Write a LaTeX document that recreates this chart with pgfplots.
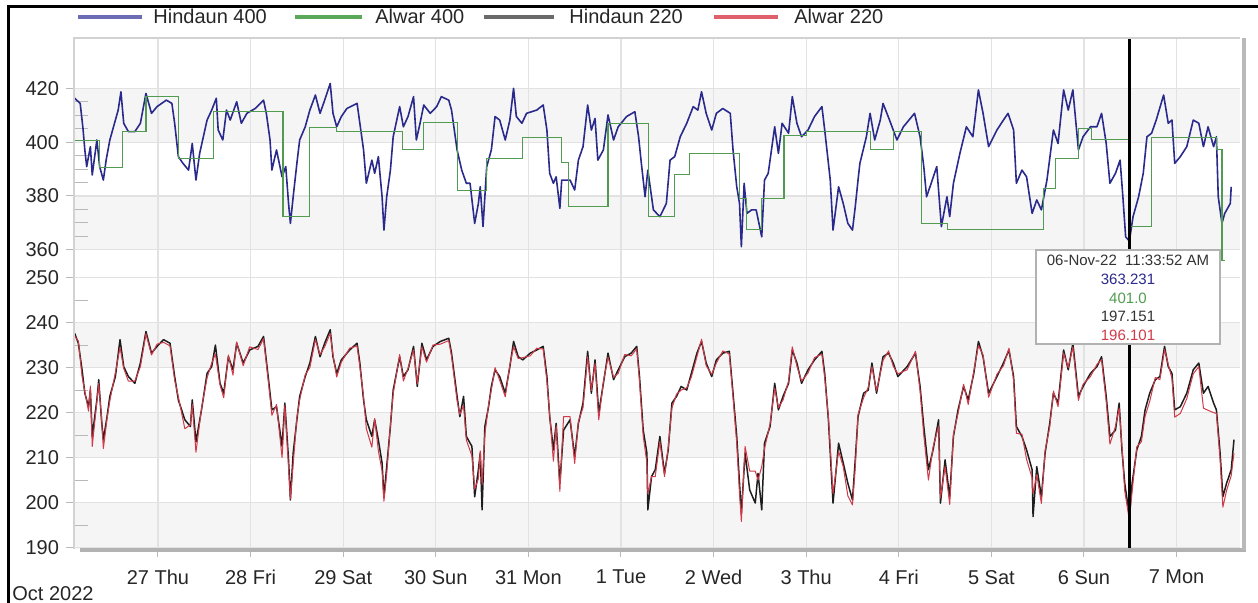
\documentclass[border=0pt]{standalone}
\usepackage{pgfplots}
\pgfplotsset{compat=1.18}
\usepackage{pgfplotstable}
\usepackage{fontspec}
\setmainfont{Liberation Sans}
\definecolor{cblue}{HTML}{2A2A8C}
\definecolor{cgreen}{HTML}{519C51}
\definecolor{cblack}{HTML}{1E1E1E}
\definecolor{cred}{HTML}{D03A48}
\definecolor{lblue}{HTML}{6C6CB4}
\definecolor{lgreen}{HTML}{5AA85A}
\definecolor{lgray}{HTML}{6A6A6A}
\definecolor{lred}{HTML}{E0606A}
\definecolor{band}{HTML}{F5F5F5}
\definecolor{gridc}{HTML}{E2E2E2}

\pgfplotstableread{
d v
0.10 416.3
0.16 414.4
0.19 405.1
0.21 397.1
0.23 390.9
0.27 398.3
0.29 387.8
0.34 400.8
0.37 390.9
0.41 385.9
0.44 393.3
0.48 400.8
0.54 408.2
0.57 411.9
0.60 418.7
0.63 407.0
0.68 403.9
0.75 403.9
0.81 407.0
0.87 418.1
0.93 410.7
0.99 413.2
1.09 415.6
1.15 414.4
1.18 407.0
1.22 394.6
1.27 392.1
1.33 389.6
1.37 399.5
1.41 385.9
1.45 395.8
1.53 408.2
1.58 411.9
1.63 416.3
1.65 404.5
1.70 400.8
1.74 411.9
1.78 408.2
1.85 415.0
1.90 407.0
1.96 410.7
2.05 412.5
2.14 415.6
2.17 410.7
2.21 400.8
2.23 389.6
2.28 397.1
2.34 387.1
2.38 390.9
2.41 377.2
2.43 369.8
2.46 379.7
2.50 392.1
2.53 400.8
2.59 405.7
2.64 411.9
2.70 417.5
2.75 410.7
2.80 415.6
2.86 421.8
2.89 410.7
2.93 405.7
2.98 409.5
3.04 412.5
3.15 414.4
3.18 407.0
3.22 397.1
3.25 384.7
3.31 393.3
3.34 388.4
3.38 394.6
3.42 379.7
3.44 367.3
3.47 379.7
3.51 389.6
3.54 402.0
3.61 413.2
3.65 405.7
3.70 409.5
3.76 416.9
3.79 400.8
3.83 407.0
3.87 413.8
3.94 410.7
4.01 413.2
4.06 416.9
4.14 415.6
4.17 411.9
4.23 397.1
4.28 389.6
4.33 384.7
4.37 384.7
4.42 369.8
4.46 377.2
4.48 383.4
4.51 368.6
4.55 390.9
4.60 397.1
4.64 409.5
4.69 408.2
4.75 400.8
4.80 408.2
4.84 420.0
4.87 409.5
4.93 407.0
4.98 410.7
5.09 411.9
5.16 413.8
5.20 404.5
5.23 388.4
5.27 384.7
5.30 387.1
5.34 375.4
5.36 385.9
5.45 385.9
5.50 382.2
5.54 393.3
5.59 398.3
5.64 413.8
5.68 404.5
5.72 408.8
5.75 393.3
5.81 397.1
5.86 410.1
5.92 400.8
5.97 405.7
6.06 409.5
6.15 411.3
6.19 402.0
6.22 392.1
6.26 379.7
6.29 389.6
6.35 374.8
6.42 372.3
6.49 377.2
6.53 393.3
6.58 394.6
6.64 402.0
6.71 407.0
6.78 413.2
6.83 411.9
6.87 418.7
6.92 410.7
6.98 404.5
7.03 410.7
7.10 412.5
7.18 410.7
7.21 397.1
7.25 383.4
7.28 377.2
7.30 361.1
7.33 384.7
7.36 373.5
7.41 374.8
7.46 374.8
7.52 364.8
7.55 385.9
7.59 388.4
7.66 405.7
7.70 395.8
7.74 407.0
7.81 403.3
7.85 416.9
7.90 407.0
7.95 402.0
8.02 404.5
8.09 409.5
8.17 413.2
8.20 404.5
8.26 385.9
8.29 367.3
8.35 383.4
8.40 377.2
8.45 369.8
8.50 367.3
8.53 376.0
8.56 385.9
8.58 392.1
8.65 402.0
8.69 410.7
8.74 400.8
8.80 408.2
8.83 414.4
8.90 408.2
8.98 400.8
9.05 405.7
9.17 410.7
9.23 402.0
9.27 390.9
9.30 379.7
9.35 384.7
9.41 390.9
9.46 368.6
9.52 379.7
9.55 372.3
9.59 384.7
9.66 395.8
9.73 405.7
9.80 402.0
9.86 419.4
9.91 410.7
9.97 398.3
10.06 404.5
10.13 408.2
10.18 410.7
10.24 404.5
10.27 384.7
10.33 389.6
10.38 387.1
10.44 373.5
10.49 378.5
10.54 374.8
10.60 385.9
10.67 404.5
10.72 399.5
10.78 419.4
10.83 411.9
10.88 419.4
10.94 397.1
10.99 402.0
11.07 405.7
11.14 405.7
11.19 410.7
11.24 399.5
11.28 384.7
11.34 388.4
11.39 393.3
11.42 379.7
11.45 364.8
11.49 363.2
11.53 372.3
11.59 379.7
11.64 388.4
11.68 402.0
11.73 403.3
11.78 408.2
11.86 417.5
11.91 407.0
11.95 408.2
11.98 392.1
12.04 394.6
12.11 398.3
12.18 408.2
12.24 407.0
12.29 398.3
12.34 405.7
12.40 398.3
12.43 402.0
12.45 379.7
12.49 369.8
12.52 373.5
12.58 377.2
12.59 383.4
}\bluetab

\pgfplotstableread{
d v
0.10 400.5
0.37 390.5
0.62 404.0
0.87 417.1
1.22 394.0
1.60 411.3
2.35 372.3
2.64 405.5
2.93 403.9
3.64 397.4
3.87 407.3
4.23 382.0
4.55 394.0
4.94 401.8
5.36 392.4
5.43 376.0
5.86 407.0
6.30 372.3
6.58 387.8
6.74 395.8
7.28 379.0
7.36 367.6
7.52 379.1
7.76 402.6
8.00 404.1
8.69 397.4
8.94 404.1
9.25 369.8
9.53 367.6
10.56 382.8
10.69 394.0
10.94 405.1
11.08 401.0
11.50 368.8
11.73 401.6
12.43 397.1
12.49 356.0
12.52 356.0
}\greentab

\pgfplotstableread{
d blk red
0.10 237.6 237.0
0.14 235.4 235.9
0.18 229.5 228.0
0.21 224.3 224.6
0.25 221.3 220.3
0.27 225.0 225.9
0.29 214.7 212.5
0.34 222.8 222.4
0.36 227.3 226.5
0.39 218.4 218.9
0.41 213.9 212.0
0.45 219.1 218.7
0.48 223.6 222.6
0.54 228.0 228.9
0.59 236.2 234.5
0.63 230.2 229.8
0.68 228.0 227.0
0.75 226.5 227.0
0.81 231.0 230.2
0.87 238.0 237.5
0.93 233.2 232.8
0.99 234.7 235.2
1.06 236.2 235.6
1.13 235.4 234.8
1.18 228.0 227.2
1.22 222.8 223.5
1.29 218.4 216.4
1.35 216.9 217.3
1.37 222.8 221.8
1.41 213.5 211.2
1.47 220.6 220.9
1.53 228.7 227.7
1.58 230.2 231.0
1.62 235.0 233.0
1.67 226.5 226.1
1.71 224.3 223.3
1.76 232.4 232.8
1.81 229.5 228.3
1.85 235.4 235.7
1.92 231.0 230.4
1.99 233.9 234.6
2.08 234.7 234.0
2.14 236.9 236.4
2.19 228.0 227.2
2.23 220.6 219.4
2.28 221.3 221.8
2.34 212.5 210.0
2.37 222.1 221.6
2.41 209.5 207.8
2.43 200.6 200.8
2.46 211.0 208.5
2.50 218.4 218.9
2.53 223.6 222.8
2.59 228.0 228.4
2.64 231.0 230.0
2.70 236.9 236.2
2.75 232.4 232.9
2.80 235.4 234.6
2.86 238.4 237.6
2.89 232.4 232.8
2.93 228.7 227.9
2.98 231.7 231.2
3.07 233.9 234.3
3.15 235.4 234.8
3.18 231.0 230.2
3.22 222.8 223.6
3.25 218.4 216.4
3.31 214.7 212.3
3.34 218.4 218.7
3.38 213.9 211.5
3.42 208.8 207.0
3.44 201.3 200.3
3.47 208.0 206.4
3.51 216.9 217.4
3.54 225.0 224.2
3.61 232.4 232.9
3.65 228.0 227.0
3.70 229.5 229.8
3.76 234.7 233.9
3.80 225.8 226.4
3.85 235.4 234.6
3.90 231.7 231.2
3.97 234.7 235.0
4.05 235.8 235.2
4.14 236.5 236.0
4.17 233.2 232.5
4.23 223.6 222.6
4.26 219.1 219.6
4.30 223.6 221.5
4.33 214.7 213.9
4.39 212.5 210.4
4.42 201.3 203.0
4.46 207.3 205.3
4.48 211.0 211.5
4.50 198.4 204.0
4.53 216.9 215.1
4.57 221.3 221.8
4.60 225.8 225.0
4.64 229.5 230.0
4.69 228.0 227.2
4.75 224.3 223.5
4.80 230.2 230.6
4.84 235.8 234.6
4.89 232.4 232.0
4.94 231.7 232.2
5.02 233.2 232.6
5.09 233.9 234.3
5.16 234.7 234.1
5.20 228.0 227.0
5.23 219.1 219.6
5.27 211.7 209.2
5.30 217.6 217.1
5.34 204.3 202.5
5.38 216.1 219.1
5.45 218.4 219.1
5.50 210.2 208.7
5.54 217.6 218.0
5.59 222.1 221.1
5.64 233.6 232.4
5.68 224.3 224.9
5.72 231.7 230.9
5.76 219.9 218.4
5.81 226.5 226.9
5.86 233.2 232.3
5.92 227.3 227.8
5.97 229.5 228.7
6.04 232.4 232.9
6.11 233.2 232.6
6.17 234.7 234.2
6.20 228.0 227.0
6.24 216.1 214.8
6.28 211.0 208.8
6.29 198.4 202.0
6.33 205.8 205.8
6.37 207.3 205.8
6.42 214.7 213.6
6.47 206.5 205.8
6.51 211.7 212.3
6.55 222.1 221.0
6.60 223.6 224.1
6.65 225.8 225.0
6.71 225.0 225.5
6.76 228.7 227.9
6.82 233.2 232.4
6.87 235.8 236.3
6.92 231.0 230.4
6.98 228.0 228.5
7.03 231.7 231.0
7.10 233.2 233.7
7.17 233.6 233.0
7.21 224.3 223.4
7.25 214.7 213.2
7.28 204.3 202.0
7.30 197.6 195.8
7.34 211.0 212.5
7.39 202.8 207.0
7.45 199.9 207.0
7.48 206.5 205.0
7.52 198.4 208.0
7.55 213.2 212.0
7.61 216.9 217.5
7.66 226.5 225.4
7.70 220.6 221.1
7.75 223.6 222.8
7.81 226.5 227.0
7.85 233.9 234.6
7.90 231.0 230.3
7.95 226.5 227.0
8.02 229.5 228.8
8.09 231.7 232.2
8.17 233.6 233.0
8.20 228.7 227.7
8.24 218.4 219.0
8.29 199.9 202.0
8.35 213.2 211.4
8.40 208.8 208.0
8.45 204.3 201.5
8.50 200.6 199.5
8.53 209.5 207.8
8.56 219.1 219.6
8.62 224.3 223.3
8.67 225.0 225.6
8.71 231.0 230.2
8.76 224.3 224.8
8.83 232.4 231.6
8.89 233.2 233.7
8.94 231.0 230.3
8.99 228.0 228.6
9.09 230.2 229.5
9.18 233.2 233.6
9.23 225.8 224.8
9.27 216.9 215.0
9.32 207.3 205.0
9.37 211.7 212.3
9.43 218.4 217.0
9.45 199.9 201.0
9.50 209.5 208.0
9.55 201.3 199.6
9.59 214.7 215.2
9.64 220.6 219.8
9.70 225.8 226.3
9.75 222.8 221.8
9.81 228.7 229.2
9.86 235.8 234.9
9.91 232.4 232.8
9.97 224.3 223.4
10.06 228.0 228.5
10.13 231.0 230.4
10.19 233.9 234.3
10.24 228.0 227.2
10.27 216.9 215.4
10.33 214.7 215.2
10.38 211.7 209.6
10.44 207.3 205.5
10.45 196.9 202.0
10.49 208.0 206.2
10.54 201.3 199.8
10.58 211.0 211.6
10.63 217.6 216.8
10.67 224.3 224.8
10.72 222.1 221.3
10.78 233.9 233.2
10.83 229.5 230.0
10.88 235.4 234.6
10.94 223.6 222.7
10.99 225.8 226.3
11.07 228.7 228.0
11.14 230.2 230.7
11.19 232.4 231.8
11.24 223.6 222.5
11.28 214.7 213.0
11.34 216.1 216.9
11.38 222.1 221.0
11.41 211.7 212.5
11.44 204.3 202.6
11.49 197.2 196.1
11.52 204.3 202.5
11.57 211.7 212.4
11.62 214.7 213.5
11.66 220.6 219.2
11.71 224.3 222.5
11.77 227.3 227.8
11.82 228.0 227.3
11.87 234.7 234.0
11.91 230.2 230.7
11.95 228.7 227.6
11.98 220.6 219.0
12.04 221.3 219.8
12.11 224.3 223.1
12.18 229.5 228.6
12.24 231.0 230.2
12.29 224.3 221.0
12.34 225.8 220.5
12.40 222.1 220.0
12.43 220.6 219.8
12.47 211.0 209.5
12.50 201.3 199.0
12.54 204.3 202.7
12.59 207.3 206.0
12.62 214.0 211.0
}\lowtab

\pgfplotsset{
  panel/.style={
    scale only axis, anchor=south west, width=583bp,
    xmin=0.093, xmax=12.685,
    axis line style={draw=none},
    tick pos=left, tick align=outside,
    major tick length=4bp, minor tick length=7bp,
    tick style={draw=gray!55, line width=0.5bp},
    minor tick style={xshift=7bp},
    xtick={1,...,12},
    xmajorgrids, ymajorgrids,
    major grid style={draw=gridc, line width=0.6bp},
    ticklabel style={font=\fontsize{10bp}{12bp}\selectfont, text=black!85},
    /pgf/number format/assume math mode=true,
  }
}

\begin{document}
\begin{tikzpicture}
\path[use as bounding box] (0,0) rectangle (629bp,301.5bp);

% background bands (upper: 360-380, 400-420; lower: 190-200, 210-220, 230-240)
\fill[band] (37bp,176.63bp) rectangle (620bp,203.53bp);
\fill[band] (37bp,230.43bp) rectangle (620bp,257.34bp);
\fill[band] (37bp,27bp) rectangle (620bp,50.19bp);
\fill[band] (37bp,72.70bp) rectangle (620bp,95.21bp);
\fill[band] (37bp,117.73bp) rectangle (620bp,140.24bp);

% upper panel
\begin{axis}[panel, at={(37bp,169.5bp)}, height=113bp,
  ymin=354.7, ymax=438.7, ytick={360,380,400,420}, minor y tick num=3,
  xticklabels={}, xtick style={draw=none}]
  \addplot[cblue, line width=0.8bp, line join=round] table[x=d,y=v] {\bluetab};
  \addplot[cgreen, line width=0.55bp, const plot] table[x=d,y=v] {\greentab};
  \draw[black, line width=1.5bp] (axis cs:11.49,354.7) -- (axis cs:11.49,438.7);
\end{axis}

% lower panel
\begin{axis}[panel, at={(37bp,27bp)}, height=142.5bp,
  ymin=189.7, ymax=253.0, ytick={190,200,...,250}, minor y tick num=1,
  xticklabels={27 Thu,28 Fri,29 Sat,30 Sun,31 Mon,1 Tue,2 Wed,3 Thu,4 Fri,5 Sat,6 Sun,7 Mon},
  xticklabel style={yshift=-3bp}]
  \addplot[cblack, line width=0.75bp, line join=round] table[x=d,y=blk] {\lowtab};
  \addplot[cred, line width=0.5bp, line join=round] table[x=d,y=red] {\lowtab};
  \draw[black, line width=1.5bp] (axis cs:11.49,189.7) -- (axis cs:11.49,253.0);
\end{axis}

% plot frame
\draw[gray!35, line width=0.6bp] (37bp,27bp) -- (37bp,282.5bp) -- (620bp,282.5bp);
\draw[gray!60, line width=2bp] (40bp,26.5bp) -- (623bp,26.5bp);
\draw[gray!55, line width=2bp] (622bp,26.5bp) -- (622bp,282.5bp);

% outer frame
\draw[black, line width=1.5bp] (4bp,0) -- (4bp,298bp) -- (629bp,298bp);

% legend
\begin{scope}[every node/.style={anchor=west, inner sep=0pt, font=\fontsize{10bp}{12bp}\selectfont, text=black!85}]
\draw[lblue, line width=2bp] (39bp,293bp) -- (71bp,293bp);
\node at (76.5bp,293.5bp) {Hindaun 400};
\draw[lgreen, line width=2bp] (147.5bp,293bp) -- (181bp,293bp);
\node at (187.5bp,293.5bp) {Alwar 400};
\draw[lgray, line width=2bp] (242bp,293bp) -- (277bp,293bp);
\node at (284.5bp,293.5bp) {Hindaun 220};
\draw[lred, line width=2bp] (357bp,293bp) -- (389bp,293bp);
\node at (397bp,293.5bp) {Alwar 220};
\end{scope}

% tooltip
\draw[gray!60, fill=white, line width=0.6bp] (518bp,129.5bp) rectangle (610bp,176.5bp);
\begin{scope}[every node/.style={inner sep=0pt, font=\fontsize{7.5bp}{9bp}\selectfont}]
\node[text=black!80] at (564bp,171.5bp) {06-Nov-22\ \ 11:33:52 AM};
\node[text=cblue] at (564bp,162bp) {363.231};
\node[text=cgreen] at (564bp,152.5bp) {401.0};
\node[text=black!80] at (564bp,143.5bp) {197.151};
\node[text=cred] at (564bp,134bp) {196.101};
\end{scope}

% date caption
\node[anchor=base west, inner sep=0pt, font=\fontsize{10bp}{12bp}\selectfont, text=black!85] at (6bp,1.5bp) {Oct 2022};
\end{tikzpicture}
\end{document}
